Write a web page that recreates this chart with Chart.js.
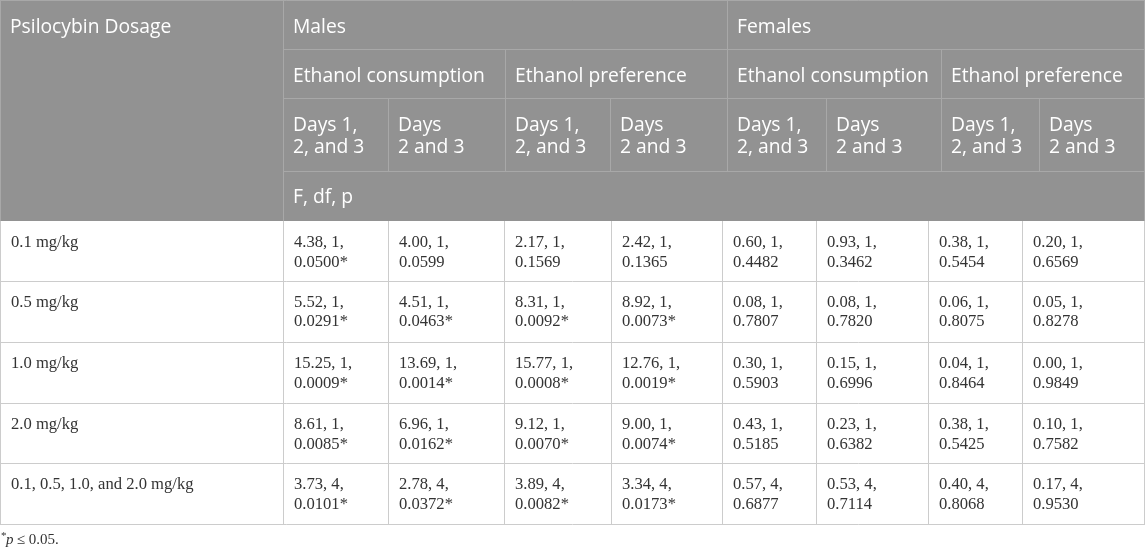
<!DOCTYPE html>
<html>
<head>
<meta charset="utf-8">
<script src="https://cdn.jsdelivr.net/npm/chart.js@4.4.1/dist/chart.umd.min.js"></script>
<style>
html, body { margin: 0; padding: 0; background: #fff; }
#wrap { width: 1145px; height: 550px; position: relative; }
</style>
</head>
<body>
<div id="wrap"><canvas id="tableChart"></canvas></div>
<script>
// table content
const dosages = ['0.1 mg/kg', '0.5 mg/kg', '1.0 mg/kg', '2.0 mg/kg', '0.1, 0.5, 1.0, and 2.0 mg/kg'];
const sexes = ['Males', 'Females'];
const measures = ['Ethanol consumption', 'Ethanol preference'];
const periods = ['Days 1,\n2, and 3', 'Days\n2 and 3'];
const firstHeader = 'Psilocybin Dosage';
const statLabel = 'F, df, p';

// F, df, p for each column (rows follow dosages)
const mCons123 = ['4.38, 1, 0.0500*', '5.52, 1, 0.0291*', '15.25, 1, 0.0009*', '8.61, 1, 0.0085*', '3.73, 4, 0.0101*'];
const mCons23 = ['4.00, 1, 0.0599', '4.51, 1, 0.0463*', '13.69, 1, 0.0014*', '6.96, 1, 0.0162*', '2.78, 4, 0.0372*'];
const mPref123 = ['2.17, 1, 0.1569', '8.31, 1, 0.0092*', '15.77, 1, 0.0008*', '9.12, 1, 0.0070*', '3.89, 4, 0.0082*'];
const mPref23 = ['2.42, 1, 0.1365', '8.92, 1, 0.0073*', '12.76, 1, 0.0019*', '9.00, 1, 0.0074*', '3.34, 4, 0.0173*'];
const fCons123 = ['0.60, 1, 0.4482', '0.08, 1, 0.7807', '0.30, 1, 0.5903', '0.43, 1, 0.5185', '0.57, 4, 0.6877'];
const fCons23 = ['0.93, 1, 0.3462', '0.08, 1, 0.7820', '0.15, 1, 0.6996', '0.23, 1, 0.6382', '0.53, 4, 0.7114'];
const fPref123 = ['0.38, 1, 0.5454', '0.06, 1, 0.8075', '0.04, 1, 0.8464', '0.38, 1, 0.5425', '0.40, 4, 0.8068'];
const fPref23 = ['0.20, 1, 0.6569', '0.05, 1, 0.8278', '0.00, 1, 0.9849', '0.10, 1, 0.7582', '0.17, 4, 0.9530'];
const footnote = ' ≤ 0.05.';

const columns = [mCons123, mCons23, mPref123, mPref23, fCons123, fCons23, fPref123, fPref23];

// layout in scale units (the axes run 0..1145 and 0..550)
const headEdges = [0, 283, 388, 505, 610, 727, 826, 941, 1039, 1145];
const bodyEdges = [0, 283, 388, 504, 611, 722, 816, 928, 1022, 1145];
const headRows = [0, 49, 98, 171, 221];
const bodyRows = [221, 281, 342, 403, 463, 524];

const headFont = '19.3px "Open Sans", sans-serif';
const bodyFont = '16.6px "Liberation Serif", "Times New Roman", serif';

const tablePlugin = {
    id: 'tableDraw',
    afterDraw(chart) {
        const ctx = chart.ctx;
        const x = chart.scales.x, y = chart.scales.y;
        const px = v => Math.round(x.getPixelForValue(v));
        const py = v => Math.round(y.getPixelForValue(v));

        function hLine(x0, x1, yv, color) {
            ctx.strokeStyle = color;
            ctx.lineWidth = 1;
            ctx.beginPath();
            ctx.moveTo(px(x0), py(yv) + 0.5);
            ctx.lineTo(px(x1), py(yv) + 0.5);
            ctx.stroke();
        }
        function vLine(xv, y0, y1, color) {
            ctx.strokeStyle = color;
            ctx.lineWidth = 1;
            ctx.beginPath();
            ctx.moveTo(px(xv) + 0.5, py(y0));
            ctx.lineTo(px(xv) + 0.5, py(y1));
            ctx.stroke();
        }
        function lines(text, xv, yv, step) {
            text.split('\n').forEach((t, i) => ctx.fillText(t, px(xv), py(yv + i * step)));
        }

        ctx.save();
        // header block
        ctx.fillStyle = '#929292';
        ctx.fillRect(px(0), py(0), px(1145) - px(0), py(headRows[4]) - py(0));
        const hc = '#a8a8a8';
        hLine(0, 1145, 0, hc);
        vLine(0, 0, headRows[4], hc);
        vLine(1144, 0, headRows[4], hc);
        hLine(headEdges[1], 1145, headRows[1], hc);
        hLine(headEdges[1], 1145, headRows[2], hc);
        hLine(headEdges[1], 1145, headRows[3], hc);
        vLine(headEdges[1], 0, headRows[4], hc);
        vLine(headEdges[5], 0, headRows[3], hc);
        vLine(headEdges[3], headRows[1], headRows[3], hc);
        vLine(headEdges[7], headRows[1], headRows[3], hc);
        [2, 4, 6, 8].forEach(i => vLine(headEdges[i], headRows[2], headRows[3], hc));

        ctx.fillStyle = '#ffffff';
        ctx.font = headFont;
        ctx.textBaseline = 'middle';
        ctx.textAlign = 'left';
        ctx.fillText(firstHeader, px(10), py(28));
        sexes.forEach((s, i) => ctx.fillText(s, px(headEdges[1 + i * 4] + 10), py(28)));
        for (let i = 0; i < 4; i++) {
            ctx.fillText(measures[i % 2], px(headEdges[1 + i * 2] + 10), py(headRows[1] + 28));
        }
        for (let i = 0; i < 8; i++) {
            lines(periods[i % 2], headEdges[1 + i] + 10, headRows[2] + 28, 22);
        }
        ctx.fillText(statLabel, px(headEdges[1] + 10), py(headRows[3] + 27));

        // body grid
        const bc = '#cccccc';
        bodyRows.slice(1).forEach(r => hLine(0, 1145, r, bc));
        bodyEdges.forEach(e => vLine(Math.min(e, 1144), bodyRows[0], bodyRows[5], bc));

        ctx.fillStyle = '#333333';
        ctx.font = bodyFont;
        dosages.forEach((d, r) => {
            const top = bodyRows[r];
            ctx.fillText(d, px(11), py(top + 21.5));
            columns.forEach((col, c) => {
                const parts = col[r].split(', ');
                const txt = parts[0] + ', ' + parts[1] + ',\n' + parts[2];
                lines(txt, bodyEdges[c + 1] + 11, top + 21.5, 20);
            });
        });

        // footnote
        ctx.textBaseline = 'alphabetic';
        ctx.font = '11px "Liberation Serif", serif';
        ctx.fillText('*', px(1), py(539));
        ctx.font = 'italic 15px "Liberation Serif", serif';
        ctx.fillText('p', px(6), py(544));
        ctx.font = '15px "Liberation Serif", serif';
        ctx.fillText(footnote, px(13), py(544));
        ctx.restore();
    }
};

new Chart(document.getElementById('tableChart'), {
    type: 'scatter',
    data: { datasets: [] },
    options: {
        responsive: true,
        maintainAspectRatio: false,
        animation: false,
        layout: { padding: 0 },
        scales: {
            x: { type: 'linear', min: 0, max: 1145, display: false },
            y: { type: 'linear', min: 0, max: 550, reverse: true, display: false }
        },
        plugins: {
            legend: { display: false },
            tooltip: { enabled: false }
        }
    },
    plugins: [tablePlugin]
});
</script>
</body>
</html>
